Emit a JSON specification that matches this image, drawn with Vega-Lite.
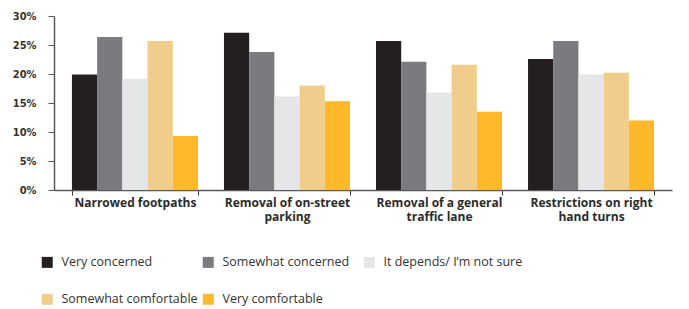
{
  "$schema": "https://vega.github.io/schema/vega-lite/v6.json",
  "width": 618,
  "height": 174,
  "autosize": {"type": "none"},
  "padding": {"left": 54, "top": 16, "right": 17, "bottom": 119},
  "background": "white",
  "config": {"view": {"stroke": null}, "font": "Open Sans"},
  "data": {
    "values": [
      {"category": "Narrowed footpaths", "response": "Very concerned", "value": 19.9},
      {"category": "Narrowed footpaths", "response": "Somewhat concerned", "value": 26.4},
      {"category": "Narrowed footpaths", "response": "It depends/ I’m not sure", "value": 19.2},
      {"category": "Narrowed footpaths", "response": "Somewhat comfortable", "value": 25.7},
      {"category": "Narrowed footpaths", "response": "Very comfortable", "value": 9.3},
      {"category": "Removal of on-street parking", "response": "Very concerned", "value": 27.1},
      {"category": "Removal of on-street parking", "response": "Somewhat concerned", "value": 23.8},
      {"category": "Removal of on-street parking", "response": "It depends/ I’m not sure", "value": 16.1},
      {"category": "Removal of on-street parking", "response": "Somewhat comfortable", "value": 18.0},
      {"category": "Removal of on-street parking", "response": "Very comfortable", "value": 15.3},
      {"category": "Removal of a general traffic lane", "response": "Very concerned", "value": 25.7},
      {"category": "Removal of a general traffic lane", "response": "Somewhat concerned", "value": 22.1},
      {"category": "Removal of a general traffic lane", "response": "It depends/ I’m not sure", "value": 16.8},
      {"category": "Removal of a general traffic lane", "response": "Somewhat comfortable", "value": 21.6},
      {"category": "Removal of a general traffic lane", "response": "Very comfortable", "value": 13.5},
      {"category": "Restrictions on right hand turns", "response": "Very concerned", "value": 22.6},
      {"category": "Restrictions on right hand turns", "response": "Somewhat concerned", "value": 25.7},
      {"category": "Restrictions on right hand turns", "response": "It depends/ I’m not sure", "value": 19.9},
      {"category": "Restrictions on right hand turns", "response": "Somewhat comfortable", "value": 20.2},
      {"category": "Restrictions on right hand turns", "response": "Very comfortable", "value": 12.0}
    ]
  },
  "mark": {"type": "bar"},
  "encoding": {
    "x": {
      "field": "category",
      "type": "nominal",
      "sort": null,
      "scale": {"paddingInner": 0.171, "paddingOuter": 0.118},
      "axis": {
        "title": null,
        "labelAngle": 0,
        "labelFont": "Open Sans",
        "labelFontWeight": "bold",
        "labelFontSize": 12,
        "labelColor": "#2b2b2b",
        "labelPadding": 2,
        "labelLineHeight": 14,
        "labelExpr": "datum.value == 'Removal of on-street parking' ? ['Removal of on-street', 'parking'] : datum.value == 'Removal of a general traffic lane' ? ['Removal of a general', 'traffic lane'] : datum.value == 'Restrictions on right hand turns' ? ['Restrictions on right', 'hand turns'] : datum.value",
        "tickBand": "extent",
        "tickSize": 5,
        "tickColor": "#333333",
        "tickWidth": 1,
        "domainColor": "#58595b",
        "domainWidth": 1.5
      }
    },
    "xOffset": {
      "field": "response",
      "type": "nominal",
      "sort": ["Very concerned", "Somewhat concerned", "It depends/ I’m not sure", "Somewhat comfortable", "Very comfortable"],
      "scale": {"paddingInner": 0, "paddingOuter": 0}
    },
    "y": {
      "field": "value",
      "type": "quantitative",
      "scale": {"domain": [0, 30], "nice": false},
      "axis": {
        "title": null,
        "values": [0, 5, 10, 15, 20, 25, 30],
        "labelExpr": "datum.value + '%'",
        "grid": false,
        "labelFont": "DejaVu Sans Condensed",
        "labelFontWeight": "bold",
        "labelFontSize": 11,
        "labelColor": "#333333",
        "labelPadding": 12,
        "tickSize": 6,
        "tickColor": "#58595b",
        "domainColor": "#58595b",
        "domainWidth": 1.5
      }
    },
    "color": {
      "field": "response",
      "type": "nominal",
      "sort": ["Very concerned", "Somewhat concerned", "It depends/ I’m not sure", "Somewhat comfortable", "Very comfortable"],
      "scale": {
        "domain": ["Very concerned", "Somewhat concerned", "It depends/ I’m not sure", "Somewhat comfortable", "Very comfortable"],
        "range": ["#231f20", "#7b7b7f", "#e5e6e8", "#f0cd8a", "#fdb92a"]
      },
      "legend": {
        "title": null,
        "orient": "none",
        "legendX": -13,
        "legendY": 240,
        "direction": "horizontal",
        "columns": 3,
        "gridAlign": "all",
        "symbolType": "square",
        "symbolSize": 121,
        "symbolStrokeWidth": 0,
        "labelFont": "Open Sans",
        "labelFontSize": 12.5,
        "labelColor": "#333333",
        "labelOffset": 8,
        "labelLimit": 300,
        "columnPadding": 1,
        "rowPadding": 24
      }
    }
  }
}
